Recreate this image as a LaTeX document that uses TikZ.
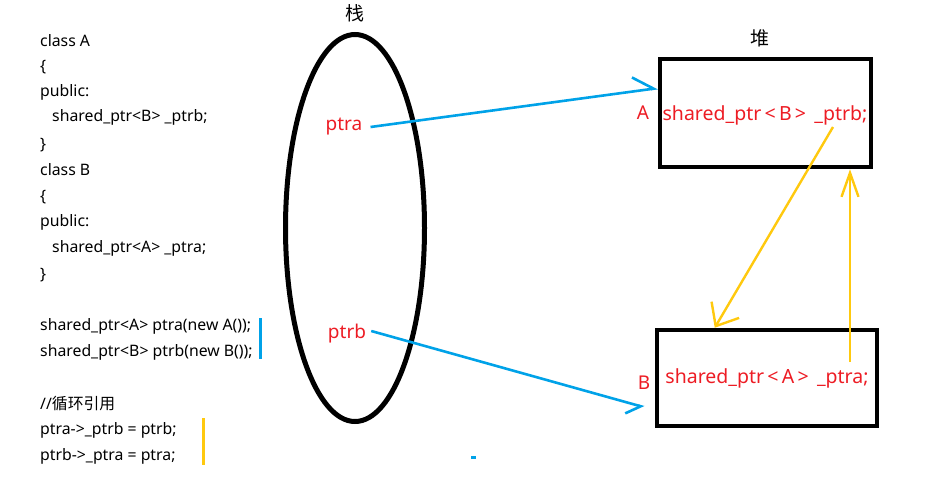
\documentclass[tikz,border=0pt]{standalone}
\usepackage{fontspec}
\setmainfont{Noto Sans}
\newfontfamily\cjk{Noto Sans CJK SC}
\usetikzlibrary{arrows.meta,shapes.geometric,calc}
\definecolor{pblue}{HTML}{00A2E8}
\definecolor{pyellow}{HTML}{FFC90E}
\definecolor{pred}{HTML}{ED1C24}
\begin{document}
\begin{tikzpicture}[x=1pt,y=-1pt,
  code/.style={anchor=west,inner sep=0pt,font=\fontsize{15.8}{17}\selectfont},
  lbl/.style={text=pred,inner sep=0pt,font=\fontsize{19}{22}\selectfont},
  boxtext/.style={text=pred,inner sep=0pt,font=\fontsize{19.5}{22}\selectfont},
  title/.style={inner sep=0pt,font=\cjk\fontsize{19}{22}\selectfont},
  heapbox/.style={draw,line width=4.5pt,inner sep=0pt},
  bluearrow/.style={pblue,line width=2.6pt},
  yellowarrow/.style={pyellow,line width=2.4pt},
  bar/.style={line width=3pt}
]
\useasboundingbox (0,0) rectangle (927,485);
% code listing
\node[code] (c1)  at (40,41)  {class A};
\node[code] (c2)  at (40,67)  {\{};
\node[code] (c3)  at (40,92)  {public:};
\node[code] (c4)  at (52,117) {shared\_ptr<B> \_ptrb;};
\node[code] (c5)  at (40,145) {\}};
\node[code] (c6)  at (40,170) {class B};
\node[code] (c7)  at (40,197) {\{};
\node[code] (c8)  at (40,222) {public:};
\node[code] (c9)  at (52,248) {shared\_ptr<A> \_ptra;};
\node[code] (c10) at (40,275) {\}};
\node[code] (c11) at (40,326) {shared\_ptr<A> ptra(new A());};
\node[code] (c12) at (40,352) {shared\_ptr<B> ptrb(new B());};
\node[code] (c13) at (40,404) {//{\cjk 循环引用}};
\node[code] (c14) at (40,430) {ptra->\_ptrb = ptrb;};
\node[code] (c15) at (40,456) {ptrb->\_ptra = ptra;};
\draw[bar,pblue] (260,318) -- (260,359);
\draw[bar,pyellow] (203,418) -- (203,465);
% stack
\node[title] (stk) at (355,13) {栈};
\node[ellipse,draw,line width=5pt,minimum width=139,minimum height=387,inner sep=0pt] (ell) at (355,228) {};
\node[lbl] (ptra) at (344,127) {ptra};
\node[lbl] (ptrb) at (347,334) {ptrb};
% heap
\node[title] (hp) at (760,38) {堆};
\node[heapbox,minimum width=211,minimum height=108] (boxA) at (765.5,113) {};
\node[boxtext] (txtA) at (765,115) {shared\_ptr\,<\,B\,>\, \_ptrb;};
\node[lbl] (labA) at (643,113) {A};
\node[heapbox,minimum width=220,minimum height=96] (boxB) at (767,378) {};
\node[boxtext] (txtB) at (767,378) {shared\_ptr\,<\,A\,>\, \_ptra;};
\node[lbl] (labB) at (644,383) {B};
% arrows
\draw[bluearrow,-{Straight Barb[left,length=20pt,width=28pt]}] ([xshift=8pt]ptra.east) -- (boxA.167);
\draw[bluearrow,-{Straight Barb[right,length=13pt,width=22pt]},shorten >=11pt] ([xshift=5pt,yshift=3pt]ptrb.east) -- (boxB.196);
\coordinate (ya) at (833,127);
\coordinate (yb) at (850,362);
\draw[yellowarrow,-{Straight Barb[length=19pt,width=32pt]}] (ya) -- ($(boxB.north west)+(60,0)$);
\draw[yellowarrow,-{Straight Barb[length=24pt,width=17pt]}] (yb) -- (boxA.south -| yb);
\fill[pblue] (471,456) rectangle (476,459);
\end{tikzpicture}
\end{document}
